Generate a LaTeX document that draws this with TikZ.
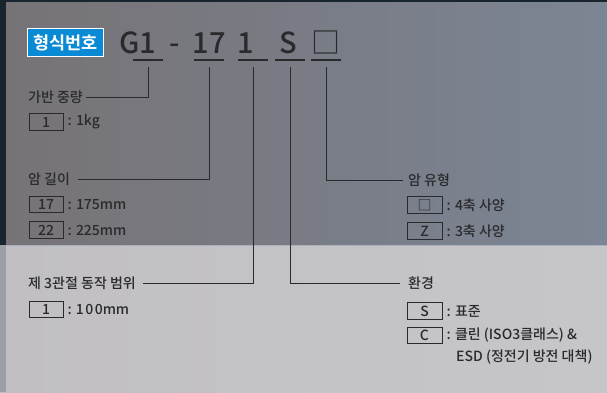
\documentclass[tikz,border=0pt]{standalone}
\usepackage{fontspec}
\setmainfont{Noto Sans CJK KR}[UprightFont=* Medium,BoldFont=* Bold]
\usetikzlibrary{positioning}
\definecolor{inkline}{HTML}{2A2A2D}
\definecolor{panelleft}{HTML}{767376}
\definecolor{panelright}{HTML}{7C8594}
\definecolor{lowleft}{HTML}{C1BFC3}
\definecolor{lowright}{HTML}{C6C6CA}
\definecolor{edgedark}{HTML}{18252E}
\definecolor{edgelow}{HTML}{9AA0A6}
\definecolor{tagblue}{HTML}{0A8AD4}
\tikzset{
  lbl/.style={anchor=west,inner sep=0pt,text=inkline,font=\fontsize{14}{16}\selectfont},
  desc/.style={anchor=west,inner sep=0pt,text=inkline,font=\fontsize{14}{16}\selectfont},
  codebox/.style={draw=inkline,line width=0.9pt,minimum width=34pt,minimum height=16.5pt,inner sep=0pt,text=inkline,font=\fontsize{14}{16}\selectfont},
  big/.style={inner sep=0pt,anchor=base,text=inkline,font=\fontsize{29}{32}\selectfont},
  lead/.style={draw=inkline,line width=1pt},
  uline/.style={draw=inkline,line width=2pt}
}
\begin{document}
\begin{tikzpicture}[x=1pt,y=-1pt]
			\useasboundingbox (0,0) rectangle (607,392);
			% background panels
			\shade[left color=panelleft,right color=panelright] (0,0) rectangle (607,245);
			\shade[left color=lowleft,right color=lowright] (0,245) rectangle (607,392);
			\draw[white!35!panelright,line width=1pt] (6,245)--(607,245);
			\fill[edgedark] (0,0) rectangle (607,2);
			\fill[edgedark] (0,0) rectangle (6,245);
			\fill[edgelow] (0,245) rectangle (6,392);
			% model code
			\node[fill=tagblue,draw=white,line width=0.8pt,text=white,font=\bfseries\fontsize{17.5}{19}\selectfont,minimum width=76pt,minimum height=28pt,inner sep=0pt] (tag) at (65.5,42.5) {형식번호};
			\node[big] (cG) at (137.5,53) {G1};
			\node[big] (cDash) at (175,53) {-};
			\node[big] (c17) at (209,53) {17};
			\node[big] (c1) at (246,53) {1};
			\node[big] (cS) at (288,53) {S};
			\node[big] (cBox) at (326,53) {□};
			\foreach \x/\n in {148/a,209/b,253/c,290/d,326/e}{
				\draw[uline] (\x-15,60) -- (\x+15,60);
				\coordinate (u\n) at (\x,67);
			}
			% left column
			\node[lbl] (payload) at (28,97) {가반 중량};
			\node[codebox] (pay1) at (46,122) {1};
			\node[desc,right=4pt of pay1] (pay1t) {: 1kg};
			\node[lbl] (armlen) at (28,179) {암 길이};
			\node[codebox] (len17) at (46,204.5) {17};
			\node[desc,right=4pt of len17] (len17t) {: 175mm};
			\node[codebox] (len22) at (46,230) {22};
			\node[desc,right=4pt of len22] (len22t) {: 225mm};
			\node[lbl] (joint) at (28,283) {제 3관절 동작 범위};
			\node[codebox] (joint1) at (46,309.5) {1};
			\node[desc,right=4pt of joint1] (joint1t) {:\kern4pt 1\kern1.5pt0\kern1.5pt0mm};
			% right column
			\node[lbl] (armtype) at (408,180) {암 유형};
			\node[codebox,minimum width=35pt] (typeBox) at (424.5,205) {□};
			\node[desc,right=4pt of typeBox] (typeBoxt) {: 4축 사양};
			\node[codebox,minimum width=35pt] (typeZ) at (424.5,231) {Z};
			\node[desc,right=4pt of typeZ] (typeZt) {: 3축 사양};
			\node[lbl] (env) at (408,283) {환경};
			\node[codebox,minimum width=35pt] (envS) at (424.5,311) {S};
			\node[desc,right=4pt of envS] (envSt) {: 표준};
			\node[codebox,minimum width=35pt] (envC) at (424.5,335.5) {C};
			\node[desc,right=4pt of envC] (envCt) {: 클린 (ISO3클래스) \&};
			\node[desc] (envCt2) at (456,357) {ESD (정전기 방전 대책)};
			% leader lines
			\draw[lead] (ua) |- ([xshift=3pt]payload.east);
			\draw[lead] (ub) |- ([xshift=8pt]armlen.east);
			\draw[lead] (uc) |- ([xshift=7pt]joint.east);
			\draw[lead] (ud) |- ([xshift=-8pt]env.west);
			\draw[lead] (ue) |- ([xshift=-5pt]armtype.west);
		\end{tikzpicture}
\end{document}
